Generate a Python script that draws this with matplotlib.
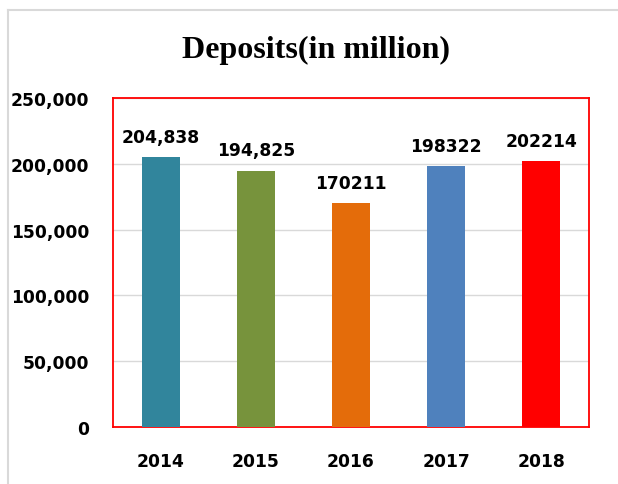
import matplotlib

matplotlib.use("Agg")
import matplotlib.pyplot as plt
from matplotlib.lines import Line2D

years = ["2014", "2015", "2016", "2017", "2018"]
deposits = [204838, 194825, 170211, 198322, 202214]
value_labels = ["204,838", "194,825", "170211", "198322", "202214"]
bar_colors = ["#31859C", "#77933C", "#E46C0A", "#4F81BD", "#FF0000"]
y_ticks = [0, 50000, 100000, 150000, 200000, 250000]

SANS = ["DejaVu Sans"]
plt.rcParams["font.serif"] = ["Liberation Serif", "Times New Roman", "DejaVu Serif"]

fig = plt.figure(figsize=(6.18, 4.85), dpi=100)
ax = fig.add_axes([113 / 618, 1 - 428 / 485, 476 / 618, 329 / 485])

x = range(len(years))
bars = ax.bar(x, deposits, width=0.4, color=bar_colors, zorder=3)
for b, lab in zip(bars, value_labels):
    ax.annotate(lab, (b.get_x() + b.get_width() / 2, b.get_height()),
                textcoords="offset points", xytext=(0, 8), ha="center", va="bottom",
                fontsize=12.3, fontweight="bold", family=SANS)

ax.set_xlim(-0.5, len(years) - 0.5)
ax.set_ylim(0, 250000)
ax.set_xticks(list(x))
ax.set_xticklabels(years)
ax.set_yticks(y_ticks)
ax.set_yticklabels([f"{v:,}" for v in y_ticks])
for lab in ax.get_xticklabels() + ax.get_yticklabels():
    lab.set_fontsize(12.3)
    lab.set_fontweight("bold")
    lab.set_family(SANS)
ax.tick_params(axis="both", length=0)
ax.tick_params(axis="x", pad=18)
ax.tick_params(axis="y", pad=17)
ax.grid(axis="y", color="#D9D9D9", lw=1.0, zorder=0)
for sp in ax.spines.values():
    sp.set_color("#FF0000")
    sp.set_linewidth(1.3)

fig.text(316 / 618, 1 - 50 / 485, "Deposits(in million)", ha="center", va="center",
         fontsize=23, fontweight="bold", family="serif")

# outer chart border (top and left edges visible)
fig.add_artist(Line2D([8 / 618, 1], [1 - 11 / 485, 1 - 11 / 485], color="#D9D9D9", lw=1.5,
                      transform=fig.transFigure))
fig.add_artist(Line2D([8 / 618, 8 / 618], [0, 1 - 11 / 485], color="#D9D9D9", lw=1.5,
                      transform=fig.transFigure))

fig.savefig("out.png", dpi=100)
